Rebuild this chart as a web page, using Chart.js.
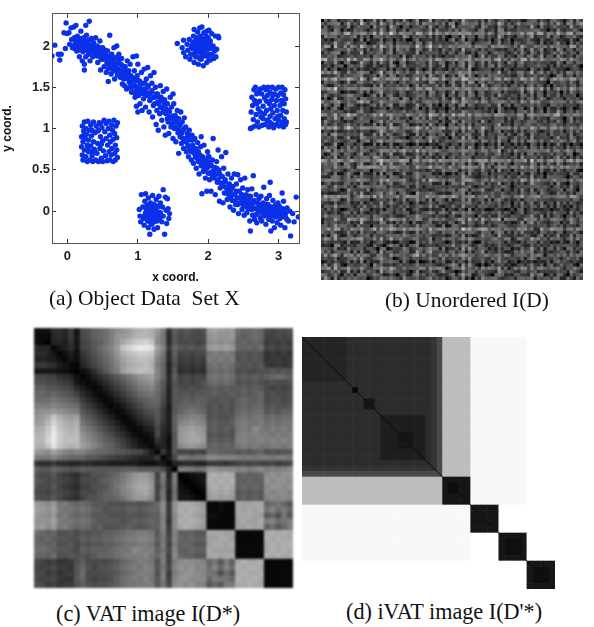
<!DOCTYPE html>
<html>
<head>
<meta charset="utf-8">
<title>VAT and iVAT images</title>
<script src="https://cdn.jsdelivr.net/npm/chart.js@4"></script>
<style>
    html, body { margin: 0; background: #fff; }
    body { width: 594px; height: 627px; position: relative; overflow: hidden; }
    canvas { position: absolute; }
    .caption { position: absolute; font: 21.4px "Liberation Serif", serif; color: #111; white-space: pre; line-height: 24px; }
</style>
</head>
<body>
<canvas id="scatter" width="310" height="286" style="left:0;top:0;filter:blur(.4px)"></canvas>
<canvas id="unordered" width="262" height="261" style="left:321px;top:19px;filter:blur(.7px)"></canvas>
<canvas id="vat" width="259" height="260" style="left:34px;top:328px;filter:blur(.8px)"></canvas>
<canvas id="ivat" width="253" height="252" style="left:302px;top:337px;filter:blur(.4px)"></canvas>
<div class="caption" style="left:49px;top:286px">(a) Object Data  Set X</div>
<div class="caption" style="left:385px;top:288px">(b) Unordered I(D)</div>
<div class="caption" style="left:56px;top:602px;font-size:22.2px">(c) VAT image I(D*)</div>
<div class="caption" style="left:346px;top:600px;font-size:22.2px">(d) iVAT image I(D'*)</div>

<script>
'use strict';

// --- (a) scatter, values ---
const xTicks = [0, 1, 2, 3];
const yTicks = [0, 0.5, 1, 1.5, 2];

const bandPoints = [
    [-.22,1.88],[-.18,2.01],[-.13,1.9],[-.11,1.83],[-.09,1.9],[-.05,2.16],[-.02,2.28],[-.03,1.97],[-.01,2.15],[.02,2.16],[.03,2.02],[.05,2.22],[.07,1.98],[.06,2.08],[.09,2.23],[.1,2.1],[.11,2.03],[.12,2.25],[.13,1.94],[.14,2.12],[.15,2],[.16,2.07],[.17,1.87],[.18,1.96],[.19,2.18],[.2,2.04],[.21,1.82],[.22,1.93],[.23,2.1],[.24,1.78],[.25,2],[.24,1.71],[.26,1.87],[.26,2.25],[.27,2.13],[.28,1.97],[.29,2.05],[.3,1.9],[.31,2.3],[.32,1.82],[.33,2],[.34,2.09],[.35,1.94],[.36,1.87],[.37,2.04],[.38,1.98],[.39,1.9],[.4,2.1],[.41,1.93],[.42,2],[.43,1.8],[.44,1.88],[.45,1.96],[.46,2.06],[.47,1.71],[.48,1.9],[.5,1.84],[.5,1.98],[.52,1.75],[.53,1.92],[.54,1.86],[.55,1.68],[.56,1.8],[.57,1.94],[.58,1.57],[.58,1.72],[.6,2.13],[.6,1.85],[.61,1.76],[.62,1.66],[.63,1.9],[.64,1.8],[.65,1.7],[.66,1.98],[.67,1.6],[.68,1.86],[.69,1.75],[.7,2],[.71,1.65],[.72,1.8],[.73,1.9],[.74,1.7],[.75,1.62],[.76,1.78],[.77,1.85],[.78,1.54],[.79,1.7],[.8,1.6],[.81,1.52],[.82,1.75],[.83,1.66],[.84,1.48],[.85,1.82],[.86,1.6],[.87,1.7],[.88,1.5],[.89,1.78],[.9,1.56],[.91,1.44],[.92,1.62],[.93,1.87],[.94,1.52],[.95,1.7],[.96,1.43],[.97,1.58],[.98,1.88],[.99,1.64],[1,1.5],[1,1.78],
    [.96,1.38],[.98,1.27],[1,1.2],[1.01,1.4],[1.02,1.58],[1.03,1.3],[1.04,1.46],[1.05,1.68],[1.06,1.22],[1.07,1.55],[1.08,1.36],[1.09,1.72],[1.1,1.48],[1.11,1.26],[1.12,1.6],[1.13,1.4],[1.14,1.74],[1.15,1.52],[1.16,1.2],[1.17,1.34],[1.18,1.64],[1.19,1.44],[1.2,1.55],[1.21,1.14],[1.22,1.28],[1.23,1.68],[1.24,1.38],[1.25,1.5],[1.26,1.05],[1.27,1.22],[1.28,1.42],[1.29,.98],[1.3,1.3],[1.31,1.18],[1.32,1.52],[1.33,1.38],[1.34,1.1],[1.35,1.25],[1.36,1.45],[1.37,1.02],[1.38,1.35],[1.39,.92],[1.4,1.18],[1.41,1.48],[1.42,1.3],[1.43,1.08],[1.44,.94],[1.45,1.2],[1.46,1.38],[1.47,1.02],[1.48,1.26],[1.49,1.12],[1.5,.88],[1.5,1.42],[1.51,1.3],[1.52,1],[1.53,1.16],[1.54,.84],[1.55,1.08],[1.56,1.22],[1.57,.95],[1.58,.7],[1.58,1.12],[1.59,1.03],[1.6,.9],[1.61,1.2],[1.62,.82],[1.63,1.08],[1.64,.98],[1.65,.76],[1.66,1.13],[1.67,.88],[1.68,1.02],[1.69,.72],[1.7,.94],[1.71,.8],[1.72,.66],[1.73,.98],[1.74,.86],[1.75,.74],[1.76,.62],[1.77,.92],[1.78,.8],[1.79,.58],[1.8,.7],[1.81,.88],[1.82,.76],[1.83,.52],[1.84,.64],[1.85,.83],[1.86,.72],[1.87,.45],[1.88,.6],[1.89,.78],[1.9,.55],[1.9,.9],[1.91,.21],[1.92,.66],[1.93,.48],[1.94,.8],[1.95,.6],[1.96,.4],[1.97,.54],[1.98,.24],[1.99,.72],[2,.46],[2,.6],
    [2.01,.66],[2.02,.38],[2.03,.55],[2.04,.24],[2.05,.47],[2.06,.62],[2.07,.88],[2.08,.4],[2.09,.53],[2.1,.2],[2.11,.45],[2.12,.6],[2.13,.35],[2.14,.74],[2.15,.5],[2.16,.12],[2.17,.28],[2.18,.42],[2.19,.66],[2.2,.33],[2.21,.1],[2.22,.52],[2.23,.22],[2.24,.38],[2.25,.71],[2.26,.28],[2.27,.14],[2.28,.45],[2.29,.2],[2.3,.33],[2.31,.05],[2.32,.25],[2.33,.4],[2.34,.13],[2.35,.3],[2.36,.01],[2.37,.45],[2.38,.2],[2.39,.08],[2.4,.33],[2.41,.16],[2.42,.44],[2.43,-.03],[2.44,.24],[2.45,.1],[2.46,.38],[2.47,.18],[2.48,.02],[2.49,.28],[2.5,.13],[2.51,-.05],[2.52,.4],[2.53,.08],[2.54,.2],[2.55,-.02],[2.56,.26],[2.57,.12],[2.58,.03],[2.59,-.12],[2.6,-.24],[2.6,.18],[2.61,.06],[2.62,.27],[2.63,-.05],[2.64,.43],[2.65,.13],[2.66,-.1],[2.67,.03],[2.68,.2],[2.69,-.14],[2.7,.1],[2.71,-.02],[2.72,.15],[2.73,.05],[2.74,-.08],[2.75,.18],[2.76,-.12],[2.77,.02],[2.78,.1],[2.79,.29],[2.8,-.06],[2.81,.06],[2.82,-.16],[2.83,.15],[2.84,-.02],[2.85,.08],[2.86,-.1],[2.87,.19],[2.88,.35],[2.88,-.03],[2.89,-.24],[2.9,.05],[2.91,-.12],[2.92,.13],[2.93,-.02],[2.94,-.2],[2.95,.07],[2.96,-.07],[2.97,.02],[2.98,-.14],[2.99,.1],[3,-.04],[3.01,.06],[3.02,-.09],[3.03,-.17],[3.04,.01],[3.05,.22],[3.06,-.05],[3.07,.12],[3.08,-.02],[3.09,-.2],[3.1,-.07],[3.12,.04],[3.14,-.12],[3.16,0],[3.17,-.3],[3.2,-.03],[3.22,-.13],[3.25,.17],[3.28,-.07]
];
// the dense middle of the band
const bandCorePoints = [
    [.08,2],[.1,1.97],[.12,2.08],[.14,2.02],[.16,1.95],[.18,2.09],[.2,1.98],[.22,2.02],[.24,2.06],[.26,1.95],[.28,2.02],[.3,2.07],[.32,1.94],[.34,1.97],[.36,2.02],[.38,1.92],[.4,1.98],[.42,1.88],[.44,1.93],[.46,1.98],[.48,1.84],[.5,1.92],[.52,1.87],[.54,1.95],[.56,1.88],[.58,1.78],[.6,1.82],[.62,1.88],[.64,1.74],[.66,1.84],[.68,1.7],[.7,1.78],[.72,1.72],[.74,1.84],[.76,1.68],[.78,1.76],[.8,1.66],[.82,1.7],[.84,1.62],[.86,1.68],[.88,1.56],[.9,1.64],[.92,1.5],[.94,1.6],[.96,1.52],[.98,1.46],[1,1.58],[1.02,1.44],[1.04,1.54],[1.06,1.48],[1.08,1.42],[1.1,1.55],[1.12,1.44],[1.14,1.5],[1.16,1.42],[1.18,1.36],[1.2,1.46],[1.22,1.38],[1.24,1.3],[1.26,1.42],[1.28,1.32],[1.3,1.38],[1.32,1.26],[1.34,1.34],[1.36,1.2],[1.38,1.3],[1.4,1.24],[1.42,1.12],[1.44,1.22],[1.46,1.14],[1.48,1.06],[1.5,1.15],[1.52,1.08],[1.54,1.02],[1.56,1.12],[1.58,.98],[1.6,1.05],[1.62,.94],[1.64,.88],[1.66,1],[1.68,.84],[1.7,.88],[1.72,.78],[1.74,.92],[1.76,.72],[1.78,.86],[1.8,.76],[1.82,.66],[1.84,.72],[1.86,.6],[1.88,.68],[1.9,.62],[1.92,.56],[1.94,.5],[1.96,.62],[1.98,.52],[2,.66],[2,.54],[2.02,.46],[2.04,.56],[2.06,.42],[2.08,.5],[2.1,.44],[2.12,.52],[2.14,.38],[2.16,.46],[2.18,.34],[2.2,.42],[2.22,.3],[2.24,.36],[2.26,.22],[2.28,.3],[2.3,.24],[2.32,.16],[2.34,.28],[2.36,.2],[2.38,.12],[2.4,.24],[2.42,.08],[2.44,.16],[2.46,.1],[2.48,.2],[2.5,.06],[2.52,.16],[2.54,.1],[2.56,.04],[2.58,.14],[2.6,.08],[2.62,.02],[2.64,.1],[2.66,.04],[2.68,-.04],[2.7,.03],[2.72,.08],[2.74,.01],[2.76,.06],[2.78,-.04],[2.8,.02],[2.82,.08],[2.84,.05],[2.86,-.05],[2.88,.03],[2.9,-.06],[2.92,-.01],[2.94,.04],[2.96,-.03],[2.98,0],[3,.03],[3.02,-.02],[3.04,-.06],[3.06,.03],[3.08,-.07],[3.1,-.02],[3.12,-.1]
];
const blobTopPoints = [
    [1.56,2.03],[1.65,2.07],[1.63,1.98],[1.65,1.92],[1.68,1.87],[1.7,2.02],[1.71,1.95],[1.73,2.08],[1.74,1.84],[1.76,1.98],[1.77,2.02],[1.78,1.9],[1.79,2.12],[1.8,2.2],[1.8,1.8],[1.81,2.05],[1.82,1.95],[1.83,2.1],[1.84,1.87],[1.85,2],[1.85,2.17],[1.86,1.78],[1.87,2.06],[1.88,1.93],[1.88,2.22],[1.89,2.12],[1.9,1.84],[1.9,2],[1.91,2.23],[1.92,1.95],[1.92,2.08],[1.93,1.76],[1.94,2.16],[1.95,1.88],[1.95,2.03],[1.96,1.96],[1.97,2.12],[1.98,1.8],[1.98,2.18],[1.99,2.02],[2,1.9],[2,2.1],[2.01,2.19],[2.02,1.97],[2.03,1.83],[2.03,2.06],[2.05,1.9],[2.05,2.15],[2.07,2],[2.08,1.85],[2.09,1.94],[2.1,2.12],[2.11,1.87],[2.12,1.96],[2.14,2.12],[2.15,2.1],[1.83,2.02],[1.87,1.98],[1.93,2.02],[1.97,2.05],[1.9,1.92],[1.86,2.09],[1.94,1.9],[1.8,1.98],[1.99,1.96],[1.84,1.93],[2.04,1.98],[1.75,1.9],[1.78,1.97],[1.82,1.87],[1.85,1.95],[1.89,2.05],[1.91,1.88],[1.96,2.08],[2.01,1.85],[2.02,2.02],[1.88,1.85],[1.94,1.98],[2,2.04],[1.79,2.05]
];
const blobBottomPoints = [
    [1.02,.02],[1.03,-.06],[1.04,-.13],[1.05,.2],[1.07,.05],[1.08,-.09],[1.09,-.17],[1.1,.12],[1.11,.21],[1.11,-.02],[1.12,-.07],[1.13,.07],[1.14,-.12],[1.15,-.2],[1.15,.16],[1.16,.02],[1.17,-.04],[1.17,-.28],[1.18,.1],[1.19,-.1],[1.2,.04],[1.2,-.16],[1.21,.19],[1.22,-.03],[1.23,.08],[1.23,-.22],[1.24,-.07],[1.25,.01],[1.26,.14],[1.27,-.12],[1.28,-.04],[1.28,-.2],[1.29,.05],[1.3,.18],[1.31,-.09],[1.32,.1],[1.32,-.02],[1.34,-.13],[1.35,.05],[1.36,.26],[1.36,-.06],[1.38,-.28],[1.39,.17],[1.4,.01],[1.41,-.15],[1.42,.15],[1.43,.03],[1.44,-.09],[1.45,-.03],[1.14,.01],[1.18,-.02],[1.22,.02],[1.16,-.08],[1.2,-.06],[1.25,-.05],[1.13,-.03],[1.27,.06],[1.19,.07],[1.12,.03],[1.15,.06],[1.24,.05],[1.21,-.1],[1.3,-.02],[1.17,.04],[1.26,-.08],[1.1,-.05],[1.29,-.07],[1.23,-.13],[1.18,-.14]
];
const squareLeftPoints = [
    [.2,.78],[.2,.9],[.21,1.03],[.21,.68],[.22,.62],[.22,.84],[.23,.97],[.24,1.08],[.24,.74],[.25,.88],[.26,.66],[.26,1],[.27,.93],[.28,.8],[.28,.6],[.29,1.09],[.3,.72],[.3,.86],[.31,.98],[.32,.62],[.33,.79],[.33,1.04],[.34,.91],[.35,.67],[.36,.6],[.37,.84],[.37,1.08],[.38,.75],[.39,.95],[.4,.62],[.41,1.03],[.42,.7],[.43,.82],[.44,.6],[.44,.98],[.45,1.07],[.46,.76],[.47,.9],[.48,.64],[.49,1.01],[.5,.85],[.5,.6],[.51,.73],[.52,1.1],[.53,.96],[.54,.67],[.55,.88],[.55,1.06],[.56,.61],[.57,.8],[.58,1],[.59,.72],[.59,1.09],[.6,.62],[.6,.92],[.61,.84],[.62,.68],[.63,1.04],[.63,.76],[.64,.98],[.65,.6],[.65,.87],[.66,1.1],[.67,.7],[.67,.94],[.68,.8],[.68,.62],[.69,1.03],[.7,.74],[.7,.89],[.71,.65],[.71,1.07],[.24,.93],[.29,.76],[.35,.98],[.39,.72],[.47,1.06],[.48,.81],[.34,.72],[.43,.97]
];
const squareRightPoints = [
    [2.6,1],[2.61,1.2],[2.62,1.38],[2.62,1.01],[2.63,1.28],[2.64,1.11],[2.65,1.47],[2.66,1.03],[2.66,1.34],[2.67,1.5],[2.68,1.17],[2.69,1.42],[2.7,1.08],[2.71,1.24],[2.72,1.02],[2.73,1.33],[2.74,1.48],[2.75,1.14],[2.76,1.42],[2.77,1.04],[2.78,1.27],[2.79,1.5],[2.8,1.18],[2.8,1.37],[2.81,1.05],[2.82,1.47],[2.83,1.22],[2.84,1.1],[2.84,1.4],[2.85,1.5],[2.86,1.02],[2.87,1.3],[2.88,1.15],[2.88,1.44],[2.89,1.24],[2.9,1.06],[2.9,1.35],[2.91,1.5],[2.92,1.19],[2.93,1.01],[2.94,1.42],[2.94,1.28],[2.95,1.12],[2.96,1.48],[2.97,1.05],[2.97,1.34],[2.98,1.22],[2.99,1.4],[3,1.1],[3,1.5],[3.01,1.03],[3.02,1.28],[3.03,1.16],[3.03,1.43],[3.04,1.34],[3.05,1.07],[3.05,1.5],[3.06,1.22],[3.07,1.41],[3.07,1.02],[3.08,1.12],[3.08,1.3],[3.09,1.47],[3.1,1.05],[3.1,1.36],[3.11,1.2],[3.11,1.08],[2.69,1.3],[2.74,1.2],[2.83,1.33],[2.78,1.12],[2.92,1.4],[2.87,1.08],[2.99,1.15],[2.72,1.45]
];

// --- (b) unordered dissimilarity image: upper triangle, read row after row ---
// one base-36 digit per cell: 0 = black, z = white
const unorderedSize = 80;
const unorderedCells =
    '1d7hb5ea8g6cj49dk7b5he8c6ia7dg59bk6fc8h5ad7ie6bg8c5jd79hb6fa' +
    'c15e9h7bd6gi8a5cf7jb6de9h5ag8c7kd6ib5fe8a7hc6gd9b5ie7af8c6hd' +
    '08bf6dh5c9ea7ig6d8bj5ce7a9hf6d8gb5ic7ek6a8fd9h5bg7ce6ia8d5jf' +
    'b1ae7c5gd8hb6fa9ck7e5d8ib6gh9a5dc8fj6e7b9ia5gd8ch6ae7kb9f5dg' +
    '6c07hd9a5fb8ge6ci7ad5hf8c9be6ka7dg5i9cf6b8he7ad5gj6cb9f8ed7h' +
    'g8d1b6fa9c7hd5ea8ig6cb9f7dh5ea8kc6g9bf5di7ae8hc6jb9dg5fa7ec8' +
    '5fb06e9hc7ad8gb5if7dc6ea9hg5bd8ic7fk6a9e5dh8bg6ca7ji9e5fd8b6' +
    'e7c81ad6gb9f5hc8ea7ig6db5fc9eh7a8dk6gb5cf9ia7ed8h6bg5jc9ae7d' +
    'a5g9c16fe8bd7ah9c5gi7ef6bd8ca9h5eg7ci6db8fk5a7ge9dh6cb8fa5ie' +
    'hd8b7f0a5ec9gb6fd8ah7ci5eg9bd6fa8hc7kb5ed9gi6af8ce7hd5bg9a6f' +
    '7b6eh9c1d8fa5gc7ie9bd6hf8a5gc9eb7id6fk8ah5cg9be6da7if8c5hd9g' +
    'ca9d5gb70ec8h6fb9ad7gi5ce8fb6ha9dg7ce5kf8ib6dh7ag9c5ef8db6ia' +
    '6gf7b8de91a5ch7eg6bf9di8ac5hg7eb6fd9ak5ci8gb7fe6dh9ac8g5be7d' +
    'e8c9ha5fb60d7gbe5ci8fa6dh9gb5ce7fa8di6kg9be5hc7ad8fg6ib9ce5h' +
    '5bh6de9a7c81fa6gd8ehb5ci7fa9dg6ec5hb8ia7dk9fe6gc8ba5hd7if9ce' +
    'gd7ac6bh5ef0c9ab7ig6de8ha5fc7gb9de6hf8c5ia7gk6bd9fe8ac5hg7db' +
    'a6eb9f7dc8g61he5ca9df7gb8ie6ad5hc7fg9be6ia8dc5kh7fg9b6ae8dc7' +
    '7fc5hb8ge6ad90b7fh6ci9ea5dg8fb7ch6ea9gd5if8bc7hk6ed9ag5fb8c6' +
    'dhag6e5c9fb7ga1d5ebi8c7gf6ha9de5bg8cf7ah6id9ek5bc8fg7da6he9c' +
    'c8b5ef9da7hg6cb09gfa7di6eb8hc5fa7ed9gb6hc8ia5dk7fe9gb6cd8ah5' +
    '6ea8gc7bh5df9e6d1c7ib9fa5gd8eh6ca7bf9dg5he8ci6ab7kg9fd5ca8he' +
    'h7d9ba6fe8c5gb7ha06ei8dc5fb9ag7he6cd8bf5ga9ih7ec6bd8fk5ag9ce' +
    'b5fc6hd9a7ge8ca5fd1bi7ge9dh6cf8ab5ed9gh7ca6fi8db5eg7ac9hk6fd' +
    '9gea7d8c6fb5hd9eb7c0ia6fg8ec5hd7bf9ag6ce8hd5bi7fa9gc6ed8bh5k' +
    'e7cga9d5hf8b6ec9ga7d1f5ch8bg6ea9df7hc5bg8ie6ad9fc7hb5ga8ed6f' +
    '8dh5bf9c7ae6gd8bh6f0ac9e5gf7db8ha6ce9bg5fi7dc8ah6eb9gd5fc7ae' +
    'fb6e9c7ah5dg8fb5ec9a1h7gd8e5fa6cb9hg7de8ci5fa6gb9dh7ec8af5gd' +
    'a9gd6ef8b5hc7ga9d6fb8e0c5gh7da9fb6ec8hd5ga7if9bc6ed8hg5a7fcb' +
    '6c8fb7dhg5ae9c6f8bd7ha9e15cg8bf6ad9he7cg5bi8df6ae9gc7hb5fd8e' +
    'dh5a9gc7ef6b8dh5a9gc7fe6b0d8ga5hf7ce9b6dg8ai5ch7fe6bd9ag8c5f' +
    'g7ebc8a6d9hf5g7eb8ca6dh9f1b7eac5g9d8hf6ba7ge5ci8fd6ha9cb7de5' +
    '8fa9gd6ch5eb7f8a9dg6che5b7d0fc8ag6ebh9d7cf5ga8ie6db9hc7ea5gf' +
    'e5db7h9fa8c6ge5db7h9fa8c6gb1e9ca7fd8hg6bc5ed9ai7fb8gc6ha9e5d' +
    'b9gf6ac8e7d5hb9gf6ac8e7d5hf8a0ch6b9eg7df5ca8ig6de9bf7hc5ad8g' +
    '7c8ed5bg9fa6h7c8ed5bg9fa6hd5e91gb7fa8c6he5db9fi7ac8gd6eh5bf9' +
    'dagh6c9e7b8f5dagh6c9e7b8f5a9hb70d6ecg9f5ab8ed7ch6gi5fa9cb8eh' +
    'fh6b8ed5ca9g7fh6b8ed5ca9g7c7d9g81eahb5f6cd9ga8ef7bi6c5hd8a9g' +
    '5dc9ag7hb6ef85dc9ag7hb6ef8g6aeb5f0cd7h9gb5fa8cd6ehg7bi9ad5f8' +
    'a8fb5cg9d7he6a8fb5cg9d7he6bf8d6e9a1hg7c5fbe8da9gc6hf7ai5bd8c' +
    'g6ed9h7ba5cf8g6ed9h7ba5cf8d5g7ahc9f0eb6gd8ca7hf5be9dg6ci8af7' +
    'c7h5bf8ead9g6c7h5bf8ead9g6ea9bf7dcg16e8hb5ad7fc9gh6eb8dia5fc' +
    'e9da7g6c5hb8fe9da7g6c5hb8f7cbg8ae9hd06fc8ga5eb7d9hf6ac8ge5ib' +
    'b6f8dac7eg9h5b6f8dac7eg9h5ed6c9f7ba8g1h5ea7cg9bd6fe8hc5da7gi' +
    '8eg5c9hb6fd7a8eg5c9hb6fd7a9bf5hdg7e6c0a8fd5he7gb9ca6df8hb5ge' +
    'h7bd6fa9ec8g5h7bd6fa9ec8g5fa7e6cb9d8g51c7ah6fb8de9gc5ha7ed8b' +
    '5daf8ce7gb9h65daf8ce7gb9h6c8g7ba5hfe9db06ge8cf7ha5bd9ac6hg7e' +
    'cg7e9bh5af6d8cg7e9bh5af6d8b6ahfd9c7e5ga81bc9fe7d6hgb5ae8cd7f' +
    'f9hb5dc8e7ga6f9hb5dc8e7ga6d5ceg7ab8h6fd90ha5gb8fc7ed9bf6gha5' +
    '7dcg8a6fh5eb97dcg8a6fh5eb9a8fg6ehc5d7ba9e1dg6hc9fb8a7ced5gf8' +
    'be5f9h7dc6ag8be5f9h7dc6ag8c7db9af8gh6e5cb7a0f8de6hg7ca9b5fd6' +
    'a6gd7bf9h8ce5a6gd7bf9h8ce5g9e7c5bdfa8h7g6db91ca7ef5hd8g6bc7e' +
    'g8c6aeb5d7hf9g8c6aeb5d7hf9eb6ad9h7cg5f8d7a6gc01fb9he8d5ca7gb' +
    'c5eh9d7bf6a8gc5eh9d7bf6a8g7he8g5fb9a6cd8h9ce7a1gb6fd5h8ea9cg' +
    'e9b7fg6ca5hd8e9b7fg6ca5hd8f5a9dc7eh8bg6fc5ea8db60h9gc7fa5dhb' +
    '6hda8cf9e7bg56hda8cf9e7bg5c8bf7a9gd6eh5c9d7bfg6a1e8c5hbd7gfa';

// light and dark rows/columns that run right across image (b): [index, level shift]
const unorderedBands = [
    [1, 3], [4, 7], [8, 5], [12, 6], [16, 3], [18, 7], [21, 6], [25, 4], [29, 7], [33, 6], [37, 3], [40, 4], [43, 8],
    [45, 6], [49, 5], [54, 6], [61, 4], [64, 7], [67, 3], [72, 5], [76, 4],
    [6, -3], [15, -3], [27, -3], [38, -3], [47, -2], [58, -3], [68, -3], [74, -2]
];
// image (b) is printed a little darker than its digits
const unorderedShade = 0.85;

// --- (c) VAT image: upper triangle, one string per row, same digits ---
const vatSize = 45;
const vatRows = [
    '22266583abdefhjklnopolh7d' + 'bcbab' + 'lmlkl' + 'feefe' + 'a9aab',
    '1156583abdefhklmoppokg6c' + 'abaaa' + 'klkkl' + 'edefe' + '99a9a',
    '0554739acdfhknprstrjg6c' + 'aaa9a' + 'jkjkj' + 'deded' + '89898',
    '134639acegilrtvwwvmi8e' + 'cbcbc' + 'lmlml' + 'ededf' + '9a9a9',
    '124279bdfhkoqrssrkg6d' + '9a9aa' + 'ghghg' + 'bcbcb' + '78787',
    '13268acegjmopqqpif6c' + '89898' + 'hghgh' + 'bcbcb' + '78878',
    '11579bdfilnopqohe5b' + '78787' + 'fgfgf' + 'cbcbc' + '87878',
    '02369cfhmopqqpie5c' + '67676' + 'efefe' + 'abaab' + 'bcbcb',
    '12468acegiklmie6d' + '9a9a9' + 'fgfgf' + 'cdcdc' + 'defed',
    '12468acegijkgc6c' + '9a9ab' + 'efefe' + 'bcbcb' + 'abaab',
    '12468aceghifc5c' + 'babab' + 'cdcdc' + 'cdcdc' + 'a9a9a',
    '12468acefgeb5c' + 'bcbcc' + 'cdccd' + 'cdcde' + 'abaab',
    '12468acdeea5c' + 'cdcdd' + 'cbccb' + 'dedde' + 'abbab',
    '12468acdd94c' + 'deeed' + 'bcbcb' + 'dedee' + 'bcbbc',
    '12468abc84c' + 'efgfe' + 'bcbcb' + 'efeff' + 'cdcdd',
    '124689c84d' + 'ghiig' + 'bcbbc' + 'fgfgg' + 'efeff',
    '12467b74d' + 'ijkji' + 'cdccd' + 'ghggh' + 'fgfgg',
    '1245a64d' + 'klmlk' + 'cdcdc' + 'ghgjh' + 'ghghg',
    '123a53c' + 'lmnml' + 'bcbcb' + 'hihih' + 'hghgh',
    '12752c' + 'lmnnl' + 'cdcdc' + 'hihhi' + 'hihih',
    '1452c' + 'jklkj' + 'deded' + 'ghghg' + 'ghhgh',
    '183c' + '9a9a9' + 'eeddd' + 'cdcde' + 'bcbcc',
    '13a' + 'hgfgg' + 'jjiii' + 'hghgh' + 'hghhg',
    '15' + '56655' + '88878' + '9a9a9' + '9a89a',
    '0' + 'hhgfg' + 'kkjjj' + 'iihij' + 'hihij',
    '01233' + 'nonon' + 'dedde' + 'jkjkk',
    '0123' + 'onono' + 'ddedd' + 'kjkkj',
    '012' + 'nonon' + 'deded' + 'jkkjk',
    '01' + 'mnmnm' + 'cdcdc' + 'jijji',
    '0' + 'lmlml' + 'cdcdc' + 'ijiji',
    '11211' + 'nmmnn' + 'efgec',
    '1211' + 'nmnmn' + 'gifhe',
    '111' + 'nnnmm' + 'cebgc',
    '11' + 'mnmmn' + 'hifgh',
    '1' + 'mmnmn' + 'dfceh',
    '11111' + 'nonon',
    '1111' + 'ononn',
    '111' + 'nonoo',
    '11' + 'nonon',
    '1' + 'ononn',
    '11111',
    '1111',
    '111',
    '11',
    '1'
];

// --- (d) iVAT image: blocks on the same 45 cell grid ---
// [first row, last row, first col, last col, digit], later entries paint over earlier ones
const ivatSize = 45;
const ivatBlocks = [
    [0, 44, 0, 44, 'z'],
    [0, 24, 0, 24, '6'],
    [0, 24, 23, 23, '7'], [23, 23, 0, 24, '7'],
    [0, 24, 24, 24, 'a'], [24, 24, 0, 24, 'a'],
    [0, 7, 0, 7, '5'],
    [14, 21, 14, 21, '4'],
    [11, 12, 11, 12, '3'],
    [9, 9, 9, 9, '1'],
    [17, 19, 17, 19, '3'],
    [25, 29, 0, 24, 'q'], [0, 24, 25, 29, 'q'],
    [30, 39, 0, 29, 'y'], [0, 29, 30, 39, 'y'],
    [25, 29, 25, 29, '3'], [26, 27, 26, 27, '2'],
    [30, 34, 30, 34, '3'],
    [35, 39, 35, 39, '3'], [36, 38, 36, 38, '2'],
    [40, 44, 40, 44, '3'], [41, 43, 41, 43, '2']
];
const ivatDiagonal = [0, ivatSize];

// ---------- helpers ----------
function gray(digit) {
    const v = Math.max(0, Math.min(255, Math.round(digit / 35 * 255)));
    return 'rgb(' + v + ',' + v + ',' + v + ')';
}

// turns a size x size table of digits into scatter cells
function buildCells(size, getDigit) {
    const cells = [];
    const colors = [];
    for (let r = 0; r < size; r++) {
        for (let c = 0; c < size; c++) {
            cells.push({ x: c + 0.5, y: r + 0.5 });
            colors.push(gray(getDigit(r, c)));
        }
    }
    return { cells, colors };
}

function heatmap(id, size, table, extra) {
    const canvas = document.getElementById(id);
    // rect point style: half width = radius * sqrt(1/2)
    const cellPx = Math.max(canvas.width, canvas.height) / size;
    const radius = (cellPx / 2 + 0.3) * Math.SQRT2;
    const datasets = [{
        data: table.cells,
        order: 1,
        pointStyle: 'rect',
        pointRadius: radius,
        pointBorderWidth: 0,
        pointBackgroundColor: table.colors,
        showLine: false
    }];
    if (extra) datasets.push(extra);
    return new Chart(canvas, {
        type: 'scatter',
        data: { datasets },
        options: {
            responsive: false,
            animation: false,
            events: [],
            layout: { padding: 0, autoPadding: false },
            plugins: { legend: { display: false }, tooltip: { enabled: false } },
            scales: {
                x: { type: 'linear', min: 0, max: size, display: false },
                y: { type: 'linear', min: 0, max: size, reverse: true, display: false }
            }
        }
    });
}

// ---------- (a) ----------
const tickFont = { family: '"Liberation Sans", Arial, sans-serif', size: 13, weight: 'bold' };
const titleFont = { family: '"Liberation Sans", Arial, sans-serif', size: 12, weight: 'bold' };
const asXY = p => ({ x: p[0], y: p[1] });
const useTicks = list => axis => { axis.ticks = list.map(v => ({ value: v })); };
const innerGrid = { drawOnChartArea: false, drawTicks: true, tickLength: -4, color: '#333', lineWidth: 1 };
const boxBorder = { display: true, color: '#555', width: 1 };

new Chart(document.getElementById('scatter'), {
    type: 'scatter',
    data: {
        datasets: [bandPoints, bandCorePoints, blobTopPoints, blobBottomPoints, squareLeftPoints, squareRightPoints].map(pts => ({
            data: pts.map(asXY),
            pointRadius: 2.7,
            pointBorderWidth: 0,
            pointBackgroundColor: '#0a30e8',
            showLine: false
        }))
    },
    options: {
        responsive: false,
        animation: false,
        events: [],
        layout: { padding: 0, autoPadding: false },
        plugins: { legend: { display: false }, tooltip: { enabled: false } },
        scales: {
            x: {
                type: 'linear', position: 'bottom', min: -0.22, max: 3.29,
                afterBuildTicks: useTicks(xTicks),
                afterFit: a => { a.height = 43; },
                grid: innerGrid, border: boxBorder,
                ticks: { font: tickFont, color: '#222', padding: 10, maxRotation: 0, callback: v => String(v) },
                title: { display: true, text: 'x coord.', font: titleFont, color: '#111', padding: { top: 0, bottom: 1 } }
            },
            y: {
                type: 'linear', position: 'left', min: -0.386, max: 2.39,
                afterBuildTicks: useTicks(yTicks),
                afterFit: a => { a.width = 52; },
                grid: innerGrid, border: boxBorder,
                ticks: { font: tickFont, color: '#222', padding: 6, callback: v => String(v) },
                title: { display: true, text: 'y coord.', font: titleFont, color: '#111', padding: { top: 0, bottom: 15 } }
            },
            xTop: {
                type: 'linear', position: 'top', min: -0.22, max: 3.29,
                afterBuildTicks: useTicks(xTicks),
                afterFit: a => { a.height = 4; },
                grid: innerGrid, border: boxBorder,
                ticks: { display: false }
            },
            yRight: {
                type: 'linear', position: 'right', min: -0.386, max: 2.39,
                afterBuildTicks: useTicks(yTicks),
                afterFit: a => { a.width = 11; },
                grid: innerGrid, border: boxBorder,
                ticks: { display: false }
            }
        }
    }
});

// ---------- (b) ----------
const unorderedTable = [];
for (let r = 0; r < unorderedSize; r++) {
    unorderedTable.push(new Array(unorderedSize).fill(0));
}
for (let r = 0, k = 0; r < unorderedSize; r++) {
    for (let c = r; c < unorderedSize; c++, k++) {
        const d = parseInt(unorderedCells[k % unorderedCells.length], 36);
        unorderedTable[r][c] = d;
        unorderedTable[c][r] = d;
    }
}
unorderedBands.forEach(band => {
    for (let i = 0; i < unorderedSize; i++) {
        unorderedTable[band[0]][i] += band[1];
        if (i !== band[0]) unorderedTable[i][band[0]] += band[1];
    }
});
heatmap('unordered', unorderedSize, buildCells(unorderedSize, (r, c) => unorderedTable[r][c] * unorderedShade));

// ---------- (c) ----------
const vatDigit = (r, c) => {
    const lo = Math.min(r, c), hi = Math.max(r, c);
    const ch = vatRows[lo][hi - lo];
    return ch === undefined ? 17 : parseInt(ch, 36);
};
heatmap('vat', vatSize, buildCells(vatSize, vatDigit));

// ---------- (d) ----------
const ivatTable = [];
for (let r = 0; r < ivatSize; r++) ivatTable.push(new Array(ivatSize).fill(35));
ivatBlocks.forEach(b => {
    for (let r = b[0]; r <= b[1]; r++) {
        for (let c = b[2]; c <= b[3]; c++) ivatTable[r][c] = parseInt(b[4], 36);
    }
});
heatmap('ivat', ivatSize, buildCells(ivatSize, (r, c) => ivatTable[r][c]), {
    data: ivatDiagonal.map(v => ({ x: v, y: v })),
    order: 0,
    showLine: true,
    pointRadius: 0,
    borderColor: '#0c0c0c',
    borderWidth: 1
});
</script>
</body>
</html>
